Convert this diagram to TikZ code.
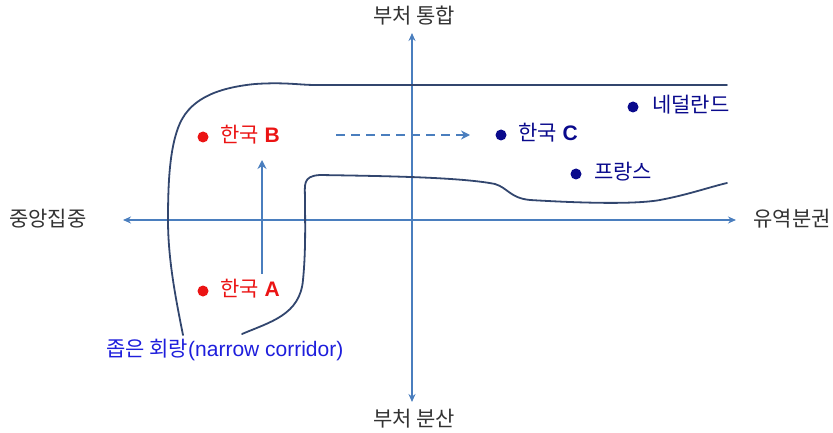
\documentclass[tikz,border=0pt]{standalone}
\usepackage{fontspec}
\setmainfont{Liberation Sans}
\newfontfamily\kr{Noto Sans CJK KR}
\usetikzlibrary{arrows.meta}
\definecolor{axisblue}{RGB}{74,126,190}
\definecolor{curvenavy}{RGB}{50,70,110}
\definecolor{dotnavy}{RGB}{10,10,140}
\definecolor{labred}{RGB}{235,20,20}
\definecolor{labblue}{RGB}{30,30,220}
\tikzset{
  axis/.style={draw=axisblue, line width=1.5pt, {Stealth[length=8pt,width=7pt]}-{Stealth[length=8pt,width=7pt]}},
  axlabel/.style={font=\kr\fontsize{21}{24}\selectfont, text=black!80, inner sep=0pt},
  ptlabel/.style={font=\fontsize{21}{24}\selectfont, inner sep=0pt, anchor=west},
  dot/.style={circle, inner sep=0pt, minimum size=11pt},
  corridor/.style={draw=curvenavy, line width=1.8pt, line cap=round},
  move/.style={draw=axisblue, line width=1.6pt, -{Stealth[length=9pt,width=9pt,inset=3pt]}}
}
\begin{document}
\begin{tikzpicture}[x=1pt,y=-1pt]
\useasboundingbox (0,0) rectangle (833,433);
% axes
\coordinate (vt) at (412,33);
\coordinate (vb) at (412,402);
\coordinate (hl) at (123,220);
\coordinate (hr) at (736,220);
\draw[axis] (vb) -- (vt);
\draw[axis] (hl) -- (hr);
\node[axlabel] (ltop) at (414,16) {부처 통합};
\node[axlabel] (lbot) at (414,419) {부처 분산};
\node[axlabel] (lleft) at (48,219) {중앙집중};
\node[axlabel] (lright) at (792,219) {유역분권};
% corridor curves
\draw[corridor] (183,335) .. controls (176,300) and (168,260) .. (168,220)
  .. controls (168,180) and (170,150) .. (178,128)
  .. controls (188,100) and (215,88) .. (255,84)
  .. controls (285,82) and (300,85) .. (315,85)
  -- (727,85);
\draw[corridor] (242,334) .. controls (270,322) and (300,315) .. (303,280)
  .. controls (306,250) and (305,220) .. (305,200)
  .. controls (305,185) and (302,176) .. (320,175)
  .. controls (380,176) and (460,177) .. (495,184)
  .. controls (508,188) and (510,198) .. (530,200)
  .. controls (580,203) and (640,205) .. (665,199)
  .. controls (690,194) and (710,187) .. (727,183);
% points
\node[dot, fill=labred] (dB) at (203,137) {};
\node[ptlabel, text=labred] (tB) at (220,135) {{\kr 한국} \textbf{B}};
\node[dot, fill=labred] (dA) at (203,291) {};
\node[ptlabel, text=labred] (tA) at (220,289) {{\kr 한국} \textbf{A}};
\node[dot, fill=dotnavy] (dC) at (501,135) {};
\node[ptlabel, text=dotnavy] (tC) at (518,133) {{\kr 한국} \textbf{C}};
\node[dot, fill=dotnavy] (dN) at (633,107) {};
\node[ptlabel, text=dotnavy] (tN) at (652,105) {\kr 네덜란드};
\node[dot, fill=dotnavy] (dF) at (576,174) {};
\node[ptlabel, text=dotnavy] (tF) at (594,172) {\kr 프랑스};
% movement arrows
\coordinate (aS) at (262,274);
\coordinate (aE) at (262,160);
\draw[move] (aS) -- (aE);
\coordinate (bS) at (336,135);
\coordinate (bE) at (470,135);
\draw[move, dash pattern=on 9pt off 6pt] (bS) -- (bE);
% corridor label
\node[font=\fontsize{21}{24}\selectfont, text=labblue, inner sep=0pt, anchor=west] (lc) at (106,350) {{\kr 좁은 회랑}(narrow corridor)};
\end{tikzpicture}
\end{document}
